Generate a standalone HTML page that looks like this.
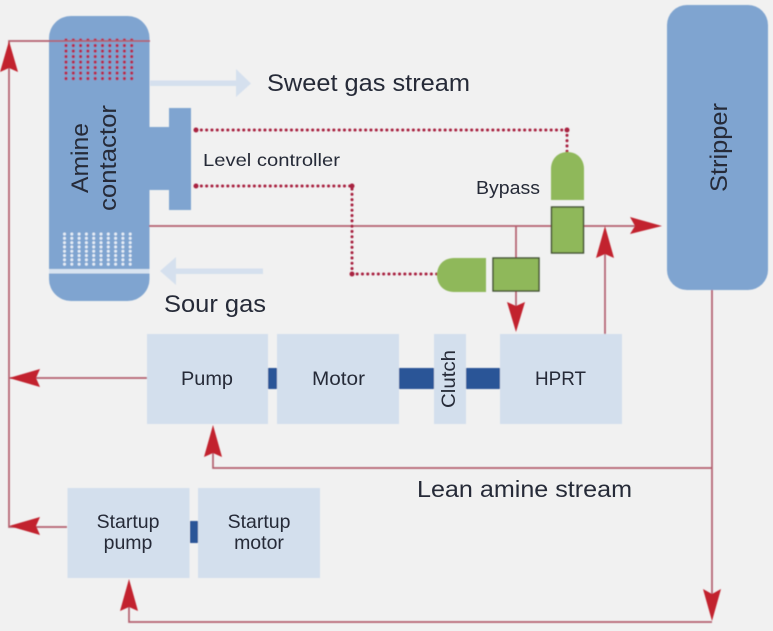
<!DOCTYPE html>
<html>
<head>
<meta charset="utf-8">
<style>
html,body{margin:0;padding:0;background:#f1f1f1;width:773px;height:631px;overflow:hidden}
svg{display:block}
text{font-family:"Liberation Sans",sans-serif;fill:#252b37}
</style>
</head>
<body>
<svg width="773" height="631" viewBox="0 0 773 631" xmlns="http://www.w3.org/2000/svg">
<defs>
<filter id="b" x="-5%" y="-5%" width="110%" height="110%"><feGaussianBlur stdDeviation="0.55"/></filter>
<filter id="t" x="-5%" y="-5%" width="110%" height="110%"><feGaussianBlur stdDeviation="0.3"/></filter>
</defs>
<rect width="773" height="631" fill="#f1f1f1"/>
<g filter="url(#b)">
<!-- vessels -->
<rect x="49" y="16" width="100.500" height="285" rx="22" fill="#7fa4d0"/>
<rect x="148" y="127" width="22" height="63" fill="#7fa4d0"/>
<rect x="169" y="108" width="22" height="102" fill="#7fa4d0"/>
<rect x="49" y="269" width="100.500" height="4.500" fill="#d8e3f0"/>
<rect x="667" y="5" width="101" height="285" rx="20" fill="#7fa4d0"/>

<!-- column dots -->
<g stroke="#b52a4e" stroke-width="3.200" stroke-dasharray="0.100 5.400" stroke-linecap="round" fill="none">
<path d="M66 40V79M73.300 40V79M80.600 40V79M87.900 40V79M95.200 40V79M102.500 40V79M109.800 40V79M117.100 40V79M124.400 40V79M131.700 40V79"/>
</g>
<g stroke="#e6edf6" stroke-width="3" stroke-dasharray="0.100 4.200" stroke-linecap="round" fill="none">
<path d="M64.500 234V268M71.800 234V268M79.100 234V268M86.400 234V268M93.700 234V268M101 234V268M108.300 234V268M115.600 234V268M122.900 234V268M130.200 234V268"/>
</g>

<!-- gas arrows -->
<path d="M150 80.500H236V69L251 83.500L236 97V86H150Z" fill="#d5e0ee"/>
<path d="M263 268.500H176V257L160 271L176 285V274H263Z" fill="#d5e0ee"/>

<!-- process lines -->
<g stroke="#b4606f" stroke-width="1.700" fill="none">
<path d="M150 41H9V527H67"/>
<path d="M147 378H10"/>
<path d="M149 226H640"/>
<path d="M516 226V258M516 291V310"/>
<path d="M605 334V240"/>
<path d="M712 290V600"/>
<path d="M712 468H213V440"/>
<path d="M712 622H129V595"/>
</g>

<!-- signal dots -->
<g stroke="#a8203f" stroke-width="3" stroke-dasharray="0.100 5.200" stroke-linecap="round" fill="none">
<path d="M196 130H567V152"/>
<path d="M196 186H352V274H437"/>
</g>
<g fill="#a8203f">
<circle cx="196" cy="130" r="2.500"/><circle cx="567" cy="130" r="2.500"/>
<circle cx="196" cy="186" r="2.500"/><circle cx="352" cy="186" r="2.500"/><circle cx="352" cy="274" r="2.500"/>
</g>

<!-- valves -->
<path d="M551 200V169C551 159 558 152 567.500 152C577 152 584 159 584 169V200Z" fill="#8fb85a"/>
<rect x="551.500" y="207" width="32" height="46" fill="#8fb85a" stroke="#3f4f30" stroke-width="1.400"/>
<path d="M486 258H454C444 258 437 265 437 275C437 285 444 292 454 292H486Z" fill="#8fb85a"/>
<rect x="493" y="258" width="46" height="33" fill="#8fb85a" stroke="#3f4f30" stroke-width="1.400"/>

<!-- boxes -->
<g fill="#d3dfed">
<rect x="147" y="334" width="121" height="90"/>
<rect x="277" y="334" width="122" height="90"/>
<rect x="434" y="334" width="32" height="90"/>
<rect x="500" y="334" width="122" height="90"/>
<rect x="67.500" y="488" width="122" height="90"/>
<rect x="198" y="488" width="122" height="90"/>
</g>
<g fill="#2a5597">
<rect x="268" y="368" width="9" height="21"/>
<rect x="399" y="368" width="35" height="21"/>
<rect x="466" y="368" width="34" height="21"/>
<rect x="190" y="521" width="8" height="22"/>
</g>

<!-- arrowheads -->
<g fill="#c2202d">
<path d="M9 41L18 72L9 68L0 72Z"/>
<path d="M9 378L40 369L36 378L40 387Z"/>
<path d="M9 526L40 517L36 526L40 535Z"/>
<path d="M662 226L630 217L635 226L630 234Z"/>
<path d="M516 332L507 302L516 306L525 302Z"/>
<path d="M605 226L596 258L605 254L614 258Z"/>
<path d="M213 425L204 457L213 453L222 457Z"/>
<path d="M129 579L120 611L129 607L138 611Z"/>
<path d="M712 621L703 589L712 594L721 589Z"/>
</g>
</g>

<!-- labels -->
<g filter="url(#t)">
<text x="267" y="91" font-size="24" textLength="203" lengthAdjust="spacingAndGlyphs">Sweet gas stream</text>
<text x="164" y="312" font-size="24" textLength="102" lengthAdjust="spacingAndGlyphs">Sour gas</text>
<text x="203" y="166" font-size="17.500" textLength="137" lengthAdjust="spacingAndGlyphs">Level controller</text>
<text x="476" y="194" font-size="18.500" textLength="64" lengthAdjust="spacingAndGlyphs">Bypass</text>
<text x="181" y="385" font-size="19" textLength="52" lengthAdjust="spacingAndGlyphs">Pump</text>
<text x="312" y="385" font-size="19" textLength="53" lengthAdjust="spacingAndGlyphs">Motor</text>
<text x="535" y="385" font-size="19" textLength="51" lengthAdjust="spacingAndGlyphs">HPRT</text>
<text x="417" y="497" font-size="23.500" textLength="215" lengthAdjust="spacingAndGlyphs">Lean amine stream</text>
<text x="128" y="528" font-size="19.500" text-anchor="middle">Startup</text>
<text x="128" y="549" font-size="19.500" text-anchor="middle">pump</text>
<text x="259" y="528" font-size="19.500" text-anchor="middle">Startup</text>
<text x="259" y="549" font-size="19.500" text-anchor="middle">motor</text>
<text transform="translate(455 408) rotate(-90)" font-size="19.500" textLength="58" lengthAdjust="spacingAndGlyphs">Clutch</text>
<text transform="translate(88 193) rotate(-90)" font-size="24" textLength="70" lengthAdjust="spacingAndGlyphs">Amine</text>
<text transform="translate(116 211) rotate(-90)" font-size="24" textLength="106" lengthAdjust="spacingAndGlyphs">contactor</text>
<text transform="translate(727 192) rotate(-90)" font-size="24" textLength="89" lengthAdjust="spacingAndGlyphs">Stripper</text>
</g>
</svg>
</body>
</html>
